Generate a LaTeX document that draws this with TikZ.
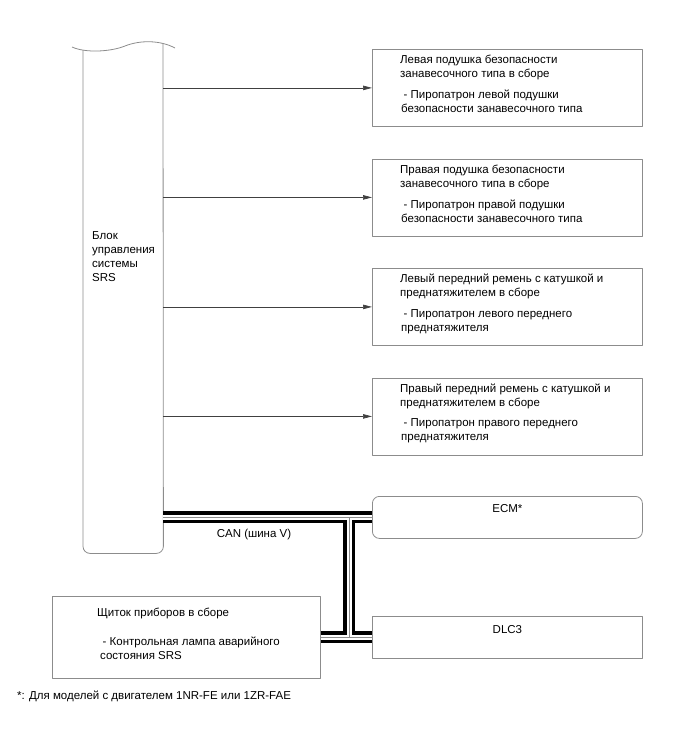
\documentclass[tikz,border=0pt]{standalone}
\usepackage{fontspec}
\setmainfont{Liberation Sans}
\usetikzlibrary{arrows.meta}
\definecolor{boxgray}{HTML}{8C8C8C}
\definecolor{wiregray}{HTML}{404040}

\begin{document}
\begin{tikzpicture}[x=1pt, y=-1pt, >={Triangle[length=9pt,width=4.5pt]}, line join=round,
    txt/.style={font=\fontsize{11.5}{14}\selectfont, inner sep=0pt, align=left},
    unitbox/.style={draw=boxgray, line width=0.8pt, minimum width=270pt, minimum height=77pt, inner sep=0pt, anchor=north west},
    busbox/.style={draw=boxgray, line width=0.8pt, minimum width=270pt, minimum height=42pt, inner sep=0pt, anchor=north west},
    canblack/.style={line width=12pt, black},
    canwhite/.style={line width=5pt, white},
    canmid/.style={line width=0.7pt, boxgray}]
    \useasboundingbox (0,0) rectangle (688,755);
    % SRS block
    \node[minimum width=80pt, minimum height=503pt, inner sep=0pt, anchor=north west] (SRS) at (83,50) {};
    \draw[boxgray, line width=0.8pt] (72,47) .. controls (85,53) and (110,52) .. (125,46) .. controls (140,40) and (160,40) .. (175,48);
    \draw[boxgray, line width=0.8pt, rounded corners=7pt] (SRS.north west) -- (SRS.south west) -- (SRS.south east) -- (163,43.5);
    \node[txt, anchor=north west] (SRS-t) at (92,231) {Блок\\управления\\системы\\SRS};
    % squib units
    \foreach \y/\id/\title/\sub in {
        49/CurtL/{Левая подушка безопасности\\занавесочного типа в сборе}/{- Пиропатрон левой подушки\\безопасности занавесочного типа},
        158.5/CurtR/{Правая подушка безопасности\\занавесочного типа в сборе}/{- Пиропатрон правой подушки\\безопасности занавесочного типа},
        268/BeltL/{Левый передний ремень с катушкой и\\преднатяжителем в сборе}/{- Пиропатрон левого переднего\\преднатяжителя},
        377.5/BeltR/{Правый передний ремень с катушкой и\\преднатяжителем в сборе}/{- Пиропатрон правого переднего\\преднатяжителя}%
    } {
        \node[unitbox] (\id) at (372,\y) {};
        \node[txt, anchor=north west] (\id-t) at ([shift={(28pt,-6pt)}]\id.north west) {\title};
        \node[txt, anchor=north west] (\id-s) at ([shift={(29pt,-41pt)}]\id.north west) {\hspace*{2.5pt}\sub};
        \draw[->, wiregray, line width=0.7pt] (SRS.east |- \id.west) -- (\id.west);
    }
    % CAN nodes
    \node[busbox, rounded corners=7pt] (ECM) at (372,496) {};
    \node[txt] (ECM-t) at ([yshift=-13pt]ECM.north) {ECM*};
    \node[busbox] (DLC) at (372,616) {};
    \node[txt] (DLC-t) at ([yshift=-14pt]DLC.north) {DLC3};
    \node[busbox, minimum width=268pt, minimum height=82pt] (Meter) at (52,596) {};
    \node[txt, anchor=north west] (Meter-t) at ([shift={(45pt,-12pt)}]Meter.north west) {Щиток приборов в сборе};
    \node[txt, anchor=north west] (Meter-s) at ([shift={(48pt,-41pt)}]Meter.north west) {\hspace*{2.5pt}- Контрольная лампа аварийного\\состояния SRS};
    % CAN bus
    \coordinate (busT) at (349,517);
    \coordinate (busB) at (349,637);
    \foreach \layer in {canblack, canwhite, canmid}
        \draw[\layer] (SRS.east |- ECM.west) -- (ECM.west) (busT) -- (busB) (Meter.east) -- (DLC.west);
    \node[txt] (CAN-t) at (254,535) {CAN (шина V)};
    \node[txt, anchor=west] (note) at (17,696) {*: Для моделей с двигателем 1NR-FE или 1ZR-FAE};
\end{tikzpicture}
\end{document}
